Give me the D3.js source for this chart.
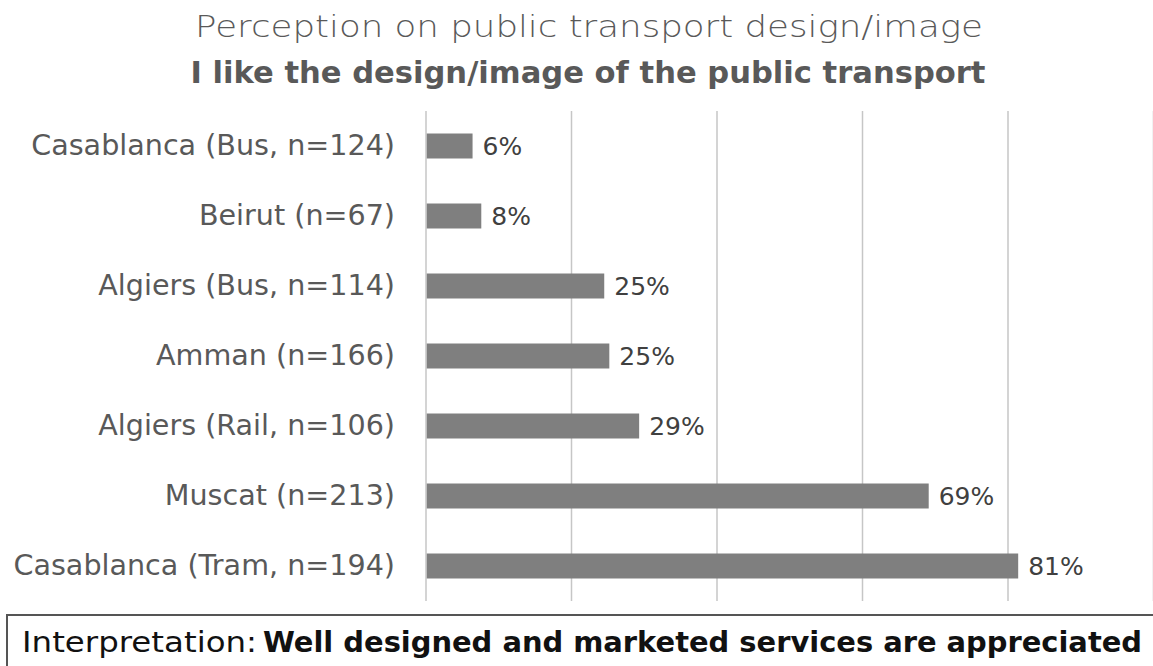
<!DOCTYPE html>
<html>
<head>
<meta charset="utf-8">
<script src="https://cdn.jsdelivr.net/npm/d3@7"></script>
<style>
  html, body { margin: 0; padding: 0; background: #ffffff; }
  svg { display: block; }
  text { font-family: "DejaVu Sans", "Noto Sans", sans-serif; }
</style>
</head>
<body>
<svg id="chart" width="1153" height="666"></svg>
<script>
// ---- data ----
const categories = [
  "Casablanca (Bus, n=124)",
  "Beirut (n=67)",
  "Algiers (Bus, n=114)",
  "Amman (n=166)",
  "Algiers (Rail, n=106)",
  "Muscat (n=213)",
  "Casablanca (Tram, n=194)"
];
const values = [6.4, 7.6, 24.5, 25.2, 29.3, 69.1, 81.4];
const gridTicks = [0, 20, 40, 60, 80, 100];
const titleLine1 = "Perception on public transport design/image";
const titleLine2 = "I like the design/image of the public transport";
const noteLabel = "Interpretation:";
const noteText = "Well designed and marketed services are appreciated";

// ---- layout ----
const svg = d3.select("#chart");
const x = d3.scaleLinear().domain([0, 100]).range([426, 1153.5]);
const y = d3.scaleBand().domain(categories).range([111, 601])
  .paddingInner(0.643).paddingOuter(0.3215);

// gridlines
svg.append("g").selectAll("line").data(gridTicks).join("line")
  .attr("x1", d => x(d)).attr("x2", d => x(d))
  .attr("y1", 111).attr("y2", 601)
  .attr("stroke", "#c6c6c6").attr("stroke-width", 1.5);

// bars
svg.append("g").selectAll("rect").data(values).join("rect")
  .attr("x", x(0) + 0.75)
  .attr("y", (d, i) => y(categories[i]))
  .attr("width", d => x(d) - x(0) - 0.75)
  .attr("height", y.bandwidth())
  .attr("fill", "#7f7f7f");

// value labels
svg.append("g").selectAll("text").data(values).join("text")
  .attr("x", d => x(d) + 10)
  .attr("y", (d, i) => y(categories[i]) + y.bandwidth() / 2)
  .attr("dy", "0.36em")
  .attr("font-size", 25)
  .attr("fill", "#404040")
  .text(d => Math.round(d) + "%");

// category labels
const yAxis = svg.append("g").attr("transform", `translate(${x(0)},0)`)
  .call(d3.axisLeft(y).tickSize(0).tickPadding(31));
yAxis.select(".domain").remove();
yAxis.selectAll("text")
  .attr("font-family", "DejaVu Sans")
  .attr("font-size", 28.6)
  .attr("fill", "#595959");

// title
svg.append("text").attr("x", 589).attr("y", 37)
  .attr("text-anchor", "middle").attr("font-size", 30)
  .attr("font-weight", 300).attr("fill", "#595959")
  .attr("textLength", 788).attr("lengthAdjust", "spacingAndGlyphs")
  .text(titleLine1);
svg.append("text").attr("x", 588).attr("y", 83)
  .attr("text-anchor", "middle").attr("font-size", 30)
  .attr("font-weight", "bold").attr("fill", "#595959")
  .attr("textLength", 795).attr("lengthAdjust", "spacingAndGlyphs")
  .text(titleLine2);

// interpretation box
svg.append("path")
  .attr("d", "M7,680 L7,615 L1160,615")
  .attr("fill", "none").attr("stroke", "#555555").attr("stroke-width", 2);
svg.append("text").attr("x", 22).attr("y", 652)
  .attr("font-size", 29).attr("fill", "#111111")
  .attr("textLength", 235).attr("lengthAdjust", "spacingAndGlyphs")
  .text(noteLabel);
svg.append("text").attr("x", 263).attr("y", 652)
  .attr("font-size", 29).attr("font-weight", "bold").attr("fill", "#111111")
  .attr("textLength", 879).attr("lengthAdjust", "spacingAndGlyphs")
  .text(noteText);
</script>
</body>
</html>
